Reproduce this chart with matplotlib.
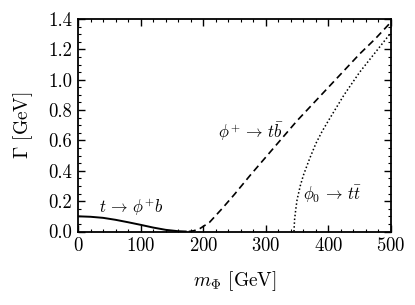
import matplotlib
matplotlib.use("Agg")
import matplotlib.pyplot as plt
from matplotlib.ticker import MultipleLocator, FormatStrFormatter

plt.rcParams['font.family'] = 'serif'
plt.rcParams['font.serif'] = ['cmr10']
plt.rcParams['mathtext.fontset'] = 'cm'
plt.rcParams['axes.formatter.use_mathtext'] = True

# t -> phi+ b
m_top = [0, 20, 40, 60, 80, 100, 120, 140, 160, 172]
g_top = [0.100, 0.097, 0.090, 0.077, 0.061, 0.044, 0.026, 0.011, 0.002, 0.0]

# phi+ -> t bbar
m_ch = [177, 185, 195, 210, 230, 250, 275, 300, 325, 350, 375, 400, 425, 450, 475, 500]
g_ch = [0.0, 0.005, 0.02, 0.06, 0.15, 0.245, 0.37, 0.49, 0.61, 0.73, 0.84, 0.95,
        1.06, 1.17, 1.27, 1.38]

# phi0 -> t tbar
m_neu = [345, 346, 348, 350, 355, 360, 370, 380, 390, 400, 425, 450, 475, 500]
g_neu = [0.0, 0.08, 0.15, 0.21, 0.30, 0.37, 0.48, 0.58, 0.66, 0.73, 0.90, 1.05, 1.18, 1.31]

fig = plt.figure(figsize=(4.15, 3.05), dpi=100)
ax = fig.add_axes([78/415, 1-231.5/305, 313/415, 212.5/305])

ax.plot(m_top, g_top, color='black', lw=1.4)
ax.plot(m_ch, g_ch, color='black', lw=1.2, dashes=(4.2, 2.6))
ax.plot(m_neu, g_neu, color='black', lw=1.1, dashes=(1, 1.5))

ax.text(34, 0.12, r'$t\,\to\,\phi^{+}b$', fontsize=12)
ax.text(224, 0.66, r'$\phi^{+}\,\to\,t\bar{b}$', fontsize=12, va='center')
ax.text(360, 0.245, r'$\phi_0\,\to\,t\bar{t}$', fontsize=12, va='center')

ax.set_xlim(0, 500)
ax.set_ylim(0, 1.4)
ax.xaxis.set_major_locator(MultipleLocator(100))
ax.xaxis.set_minor_locator(MultipleLocator(20))
ax.yaxis.set_major_locator(MultipleLocator(0.2))
ax.yaxis.set_minor_locator(MultipleLocator(0.05))
ax.yaxis.set_major_formatter(FormatStrFormatter('%.1f'))
ax.tick_params(which='both', direction='in', top=True, right=True, labelsize=13.5)
ax.tick_params(which='major', length=5, width=1.0, pad=4)
ax.tick_params(which='minor', length=2.5, width=0.8)
for s in ax.spines.values():
    s.set_linewidth(1.3)

ax.set_xlabel(r'$m_\Phi$ [GeV]', fontsize=14, labelpad=10)
ax.set_ylabel(r'$\Gamma$ [GeV]', fontsize=14, labelpad=10)

fig.savefig('out.png', dpi=100)
